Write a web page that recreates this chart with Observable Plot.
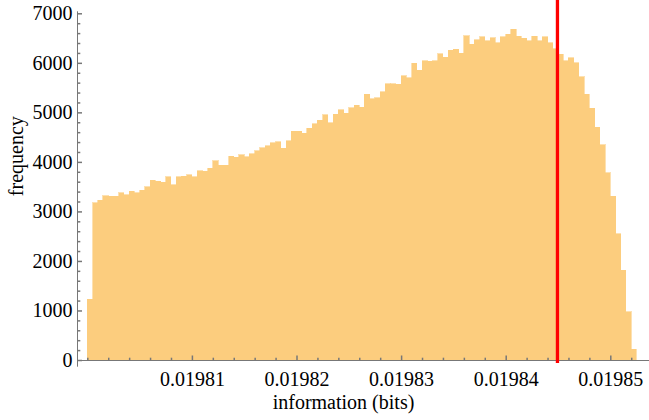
<!DOCTYPE html>
<html><head><meta charset="utf-8">
<script src="https://cdn.jsdelivr.net/npm/d3@7"></script>
<script src="https://cdn.jsdelivr.net/npm/@observablehq/plot@0.6"></script>
<style>
html,body{margin:0;padding:0;background:#fff;}
#chart svg, #chart svg text { font-family: "Liberation Serif", "DejaVu Serif", serif !important; }
</style>
</head><body><div id="chart"></div>
<script>
// Histogram bins (information in bits) and frequencies
const binStart = 0.01980;
const binWidth = 0.0000005;
const counts = [
  1225, 3176, 3230, 3318, 3310, 3310, 3372, 3338, 3412, 3378,
  3432, 3500, 3634, 3607, 3587, 3701, 3540, 3701, 3715, 3742,
  3701, 3816, 3809, 3876, 4018, 3937, 3937, 4112, 4092, 4145,
  4105, 4166, 4220, 4287, 4327, 4388, 4405, 4280, 4428, 4623,
  4623, 4576, 4684, 4768, 4839, 4953, 4790, 4963, 5050, 4980,
  5094, 5148, 5101, 5366, 5272, 5296, 5417, 5580, 5575, 5565,
  5740, 5700, 5996, 5855, 6037, 6030, 6037, 6185, 6111, 6259,
  6279, 6198, 6548, 6373, 6461, 6528, 6441, 6508, 6407, 6528,
  6575, 6683, 6541, 6495, 6447, 6541, 6447, 6528, 6407, 6286,
  6178, 6037, 6104, 6003, 5720, 5363, 5081, 4698, 4341, 3782,
  3311, 2544, 1817, 976, 215
];
const markerValue = 0.0198449;

// Tick values and labels
const xMajorTicks = [0.01981, 0.01982, 0.01983, 0.01984, 0.01985];
const xMinorTicks = [0.019800, 0.019802, 0.019804, 0.019806, 0.019808,
  0.019812, 0.019814, 0.019816, 0.019818,
  0.019822, 0.019824, 0.019826, 0.019828,
  0.019832, 0.019834, 0.019836, 0.019838,
  0.019842, 0.019844, 0.019846, 0.019848,
  0.019852];
const yMajorTicks = [0, 1000, 2000, 3000, 4000, 5000, 6000, 7000];
const yMinorTicks = d3.range(200, 7000, 200).filter(v => v % 1000 !== 0);

const xDomain = [0.0197990147, 0.0198537];
const yDomain = [0, 7000];

const bins = counts.map((c, i) => ({
  x1: binStart + i * binWidth,
  x2: binStart + (i + 1) * binWidth,
  count: c
}));

const serif = "Liberation Serif";
const tickUp = L => ({draw(ctx) { ctx.moveTo(0, 0); ctx.lineTo(0, -L); }});
const tickRight = L => ({draw(ctx) { ctx.moveTo(0, 0); ctx.lineTo(L, 0); }});
const axisColor = "#777777";
const barColor = "#fccd7e";

const chart = Plot.plot({
  width: 649,
  height: 420,
  marginLeft: 77,
  marginRight: 0,
  marginTop: 13.3,
  marginBottom: 60,
  style: {fontFamily: serif, fontSize: "20px", background: "#fff", color: "#000"},
  x: {domain: xDomain, label: null},
  y: {domain: yDomain, label: null},
  marks: [
    Plot.rectY(bins, {x1: "x1", x2: "x2", y: "count", fill: barColor, stroke: barColor, strokeWidth: 0.6, shapeRendering: "crispEdges"}),
    Plot.ruleY([0], {x1: xDomain[0], x2: xDomain[1], stroke: axisColor}),
    Plot.ruleX([xDomain[0]], {y1: -135, y2: 7040, stroke: axisColor}),
    Plot.dot(xMajorTicks, {x: d => d, y: () => 0, symbol: tickUp(5), stroke: axisColor, fill: "none"}),
    Plot.dot(xMinorTicks, {x: d => d, y: () => 0, symbol: tickUp(2.8), stroke: axisColor, fill: "none"}),
    Plot.dot(yMajorTicks, {y: d => d, x: () => xDomain[0], symbol: tickRight(4.5), stroke: axisColor, fill: "none"}),
    Plot.dot(yMinorTicks, {y: d => d, x: () => xDomain[0], symbol: tickRight(2.8), stroke: axisColor, fill: "none"}),
    Plot.axisX({ticks: xMajorTicks, tickSize: 0, tickPadding: 11, tickFormat: d3.format(".5f"), label: null, fill: "#000", fontFamily: serif, fontSize: 20}),
    Plot.axisY({ticks: yMajorTicks, tickSize: 0, tickPadding: 5, tickFormat: d3.format("d"), label: null, fill: "#000", fontFamily: serif, fontSize: 20}),
    Plot.ruleX([markerValue], {y1: -60, y2: 7268, stroke: "#ff0000", strokeWidth: 3.3}),
    Plot.text(["frequency"], {text: d => d, frameAnchor: "left", rotate: -90, dx: -61, dy: 9, fill: "#000", fontFamily: serif, fontSize: 20}),
    Plot.text(["information (bits)"], {text: d => d, frameAnchor: "bottom", dx: -20, dy: 48, fill: "#000", fontFamily: serif, fontSize: 20})
  ]
});
document.getElementById("chart").appendChild(chart);
</script>
</body></html>
